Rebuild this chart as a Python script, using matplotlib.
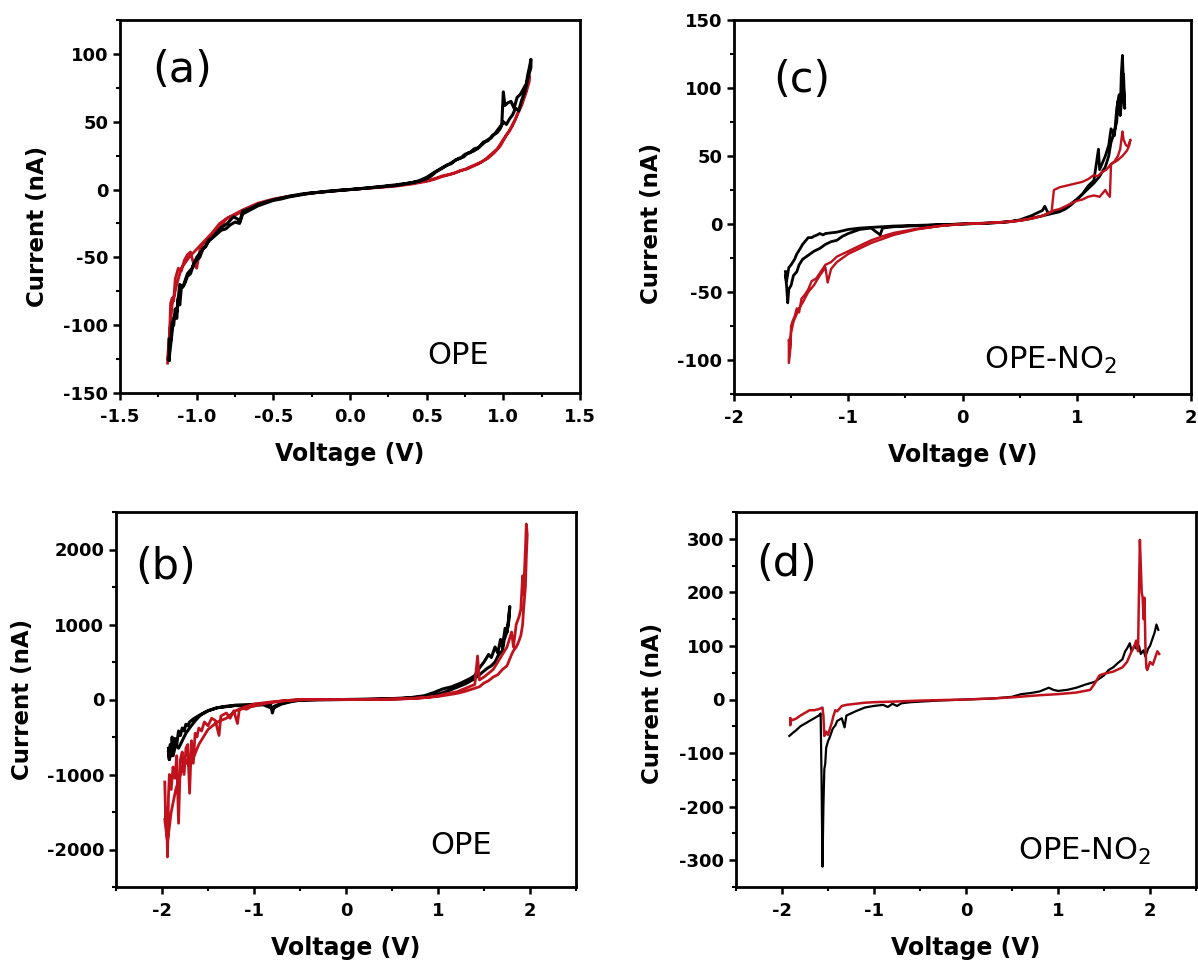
import matplotlib
matplotlib.use("Agg")
import matplotlib.pyplot as plt
from matplotlib.ticker import MultipleLocator, FormatStrFormatter

plt.rcParams['font.family'] = ['DejaVu Sans']
plt.rcParams['axes.unicode_minus'] = False
plt.rcParams['mathtext.fontset'] = 'dejavusans'

RED = '#C0121C'
BLACK = '#000000'

# ---------------- Panel (a) OPE ----------------
a_black_v = [-1.18, -1.18, -1.17, -1.16, -1.15, -1.14, -1.13, -1.12, -1.11, -1.10, -1.08, -1.06, -1.04, -1.02,
             -1.00, -0.98, -0.96, -0.94, -0.92, -0.90, -0.87, -0.84, -0.81, -0.78, -0.75, -0.72, -0.70, -0.65,
             -0.60, -0.55, -0.50, -0.45, -0.40, -0.35, -0.30, -0.25, -0.20, -0.15, -0.10, -0.05, 0.00, 0.05,
             0.10, 0.15, 0.20, 0.25, 0.30, 0.35, 0.40, 0.45, 0.50, 0.53, 0.56, 0.59, 0.62, 0.65, 0.68, 0.71,
             0.74, 0.77, 0.80, 0.83, 0.86, 0.89, 0.92, 0.95, 0.97, 0.99, 1.00, 1.01, 1.03, 1.05, 1.07, 1.09,
             1.11, 1.13, 1.15, 1.16, 1.17, 1.18,
             1.18, 1.16, 1.14, 1.12, 1.10, 1.08, 1.06, 1.04, 1.02, 1.00, 0.98, 0.96, 0.93, 0.90, 0.87, 0.84,
             0.81, 0.78, 0.75, 0.72, 0.69, 0.66, 0.63, 0.60, 0.57, 0.54, 0.50, 0.45, 0.40, 0.30, 0.20, 0.10,
             0.00, -0.10, -0.20, -0.30, -0.40, -0.50, -0.60, -0.65, -0.70, -0.72, -0.73, -0.76, -0.80, -0.84,
             -0.88, -0.92, -0.96, -1.00, -1.03, -1.06, -1.09, -1.11, -1.13, -1.15, -1.17, -1.18]
a_black_i = [-126, -110, -112, -98, -100, -88, -95, -80, -85, -72, -70, -64, -62, -55,
             -52, -50, -44, -42, -37, -36, -33, -30, -29, -26, -24, -25, -18, -15,
             -12, -10, -8, -7, -5.5, -4.5, -3.5, -2.5, -2, -1.3, -0.8, -0.3, 0, 0.5,
             1, 1.5, 2, 2.5, 3, 4, 5, 6, 8, 10, 13, 15, 17, 19, 21, 23,
             24, 27, 28, 30, 33, 36, 38, 42, 45, 48, 72, 62, 64, 65, 60, 68,
             70, 74, 78, 85, 90, 96,
             90, 82, 72, 66, 58, 60, 55, 52, 48, 50, 45, 42, 40, 36, 35, 31,
             30, 27, 26, 23, 22, 19, 18, 16, 14, 12, 9, 6.5, 5, 3.5, 2.2, 1,
             0, -1, -2, -3, -5, -7.5, -11, -14, -16, -24, -22, -20, -25, -28,
             -33, -38, -44, -50, -58, -62, -72, -70, -90, -95, -115, -125]
a_red_v = [-1.19, -1.18, -1.17, -1.16, -1.15, -1.14, -1.13, -1.12, -1.10, -1.08, -1.06, -1.04, -1.02, -1.00,
           -0.98, -0.96, -0.93, -0.90, -0.87, -0.84, -0.81, -0.78, -0.75, -0.70, -0.65, -0.60, -0.55, -0.50,
           -0.40, -0.30, -0.20, -0.10, 0.00, 0.10, 0.20, 0.30, 0.40, 0.50, 0.55, 0.60, 0.65, 0.70, 0.75,
           0.80, 0.85, 0.90, 0.94, 0.98, 1.00, 1.02, 1.04, 1.06, 1.08, 1.10, 1.12, 1.14, 1.16, 1.17,
           1.17, 1.15, 1.12, 1.09, 1.06, 1.03, 1.00, 0.96, 0.92, 0.88, 0.84, 0.80, 0.76, 0.72, 0.68, 0.64,
           0.60, 0.55, 0.50, 0.40, 0.30, 0.20, 0.10, 0.00, -0.10, -0.20, -0.30, -0.40, -0.50, -0.60, -0.70,
           -0.75, -0.80, -0.85, -0.90, -0.95, -1.00, -1.05, -1.10, -1.13, -1.16, -1.18, -1.19]
a_red_i = [-128, -118, -84, -80, -82, -66, -62, -58, -60, -52, -48, -46, -55, -58,
           -45, -40, -38, -35, -30, -27, -22, -20, -19, -16, -13, -11, -9, -7.5,
           -5, -3.3, -2, -1, 0, 0.8, 1.6, 2.5, 4, 6, 7.5, 9.5, 11, 13, 15,
           17.5, 20, 23, 27, 32, 36, 40, 43, 48, 52, 58, 64, 70, 78, 84,
           80, 72, 62, 55, 47, 42, 37, 30, 26, 22, 19, 17, 15, 14, 12, 11,
           10, 8, 6.5, 4.5, 3, 1.8, 0.9, 0, -1, -2, -3.5, -5, -7, -10, -15,
           -18, -21, -25, -32, -38, -44, -50, -58, -70, -85, -110, -125]

# ---------------- Panel (b) OPE ----------------
b_black_v = [-1.93, -1.92, -1.91, -1.90, -1.89, -1.88, -1.86, -1.84, -1.82, -1.80, -1.78, -1.76, -1.74, -1.72,
             -1.70, -1.66, -1.62, -1.58, -1.54, -1.50, -1.45, -1.40, -1.35, -1.30, -1.25, -1.20, -1.10, -1.00,
             -0.90, -0.82, -0.80, -0.78, -0.72, -0.66, -0.60, -0.55, -0.50, -0.30, 0.00, 0.30, 0.50, 0.70,
             0.85, 0.95, 1.05, 1.15, 1.25, 1.30, 1.35, 1.40, 1.45, 1.50, 1.55, 1.58, 1.62, 1.65, 1.68, 1.70,
             1.73, 1.75, 1.77, 1.78,
             1.77, 1.75, 1.72, 1.70, 1.66, 1.62, 1.58, 1.54, 1.50, 1.45, 1.40, 1.30, 1.20, 1.10, 1.00, 0.90,
             0.80, 0.60, 0.40, 0.20, 0.00, -0.30, -0.50, -0.60, -0.70, -0.80, -0.90, -1.00, -1.10, -1.20, -1.30,
             -1.40, -1.50, -1.55, -1.60, -1.65, -1.70, -1.74, -1.78, -1.82, -1.85, -1.88, -1.90, -1.92, -1.93]
b_black_i = [-650, -800, -600, -750, -500, -700, -520, -600, -420, -480, -380, -420, -330, -350,
             -300, -260, -230, -200, -180, -150, -130, -110, -100, -90, -85, -75, -70, -65,
             -60, -60, -180, -90, -60, -40, -20, -10, -5, -2, 0, 5, 12, 25,
             50, 90, 140, 170, 220, 250, 280, 320, 420, 500, 600, 560, 700, 620, 800, 700,
             950, 900, 1100, 1240,
             1050, 900, 800, 650, 600, 500, 450, 420, 380, 330, 280, 210, 160, 110, 70, 45,
             30, 12, 5, 1, 0, -3, -10, -30, -60, -120, -70, -80, -90, -80, -95,
             -110, -150, -180, -230, -300, -380, -450, -550, -650, -600, -750, -700, -800, -700]
b_red_v = [-1.97, -1.96, -1.95, -1.94, -1.93, -1.92, -1.90, -1.88, -1.86, -1.84, -1.82, -1.80, -1.78, -1.76,
           -1.74, -1.72, -1.70, -1.68, -1.66, -1.64, -1.62, -1.60, -1.57, -1.54, -1.50, -1.46, -1.42, -1.38,
           -1.36, -1.33, -1.30, -1.26, -1.22, -1.18, -1.16, -1.12, -1.08, -1.04, -1.00, -0.95, -0.90, -0.85,
           -0.80, -0.75, -0.70, -0.65, -0.60, -0.55, -0.50, -0.30, 0.00, 0.30, 0.50, 0.70, 0.80, 0.90, 1.00,
           1.10, 1.20, 1.30, 1.40, 1.43, 1.45, 1.50, 1.55, 1.60, 1.65, 1.70, 1.75, 1.80, 1.82, 1.85, 1.88,
           1.90, 1.92, 1.93, 1.95, 1.96, 1.97,
           1.96, 1.95, 1.93, 1.92, 1.90, 1.87, 1.85, 1.82, 1.80, 1.75, 1.70, 1.65, 1.60, 1.55, 1.50, 1.45,
           1.40, 1.30, 1.20, 1.10, 1.00, 0.80, 0.60, 0.40, 0.20, 0.00, -0.30, -0.50, -0.60, -0.70, -0.80,
           -0.90, -1.00, -1.10, -1.20, -1.30, -1.40, -1.50, -1.60, -1.70, -1.75, -1.80, -1.85, -1.90, -1.94,
           -1.97]
b_red_i = [-1100, -1600, -1450, -2100, -1300, -1000, -1200, -900, -1050, -750, -1650, -800, -700, -1000,
           -650, -600, -1250, -550, -850, -450, -500, -380, -420, -300, -350, -250, -280, -480,
           -220, -200, -180, -250, -150, -320, -140, -120, -130, -100, -90, -70, -60, -45,
           -40, -30, -20, -15, -10, -5, -2, -1, 0, 2, 5, 12, 20, 30, 50,
           80, 100, 150, 200, 580, 260, 300, 350, 400, 500, 600, 700, 900, 700, 1000, 1100,
           1200, 1650, 1400, 2000, 2340, 2200,
           1900, 1500, 1200, 1000, 850, 750, 700, 650, 600, 450, 400, 330, 300, 250, 220, 170,
           150, 110, 80, 60, 40, 20, 8, 3, 1, 0, -2, -5, -10, -20, -30,
           -45, -60, -100, -150, -250, -300, -400, -600, -900, -800, -1000, -1200, -1500, -1900,
           -1600]

# ---------------- Panel (c) OPE-NO2 ----------------
c_black_v = [-1.55, -1.54, -1.52, -1.50, -1.47, -1.45, -1.42, -1.40, -1.37, -1.35, -1.32, -1.30, -1.27, -1.25,
             -1.22, -1.20, -1.15, -1.10, -1.05, -1.00, -0.90, -0.80, -0.70, -0.60, -0.40, -0.20, 0.00, 0.20,
             0.40, 0.50, 0.60, 0.65, 0.70, 0.72, 0.75, 0.80, 0.85, 0.90, 0.95, 1.00, 1.05, 1.10, 1.15,
             1.19, 1.20, 1.25, 1.28, 1.30, 1.33, 1.35, 1.37, 1.38, 1.39, 1.40, 1.41, 1.42,
             1.41, 1.40, 1.38, 1.36, 1.35, 1.32, 1.30, 1.28, 1.25, 1.22, 1.20, 1.15, 1.10, 1.05, 1.00, 0.95,
             0.90, 0.85, 0.80, 0.75, 0.70, 0.60, 0.50, 0.30, 0.00, -0.30, -0.60, -0.70, -0.72, -0.80, -0.90,
             -1.00, -1.05, -1.10, -1.15, -1.20, -1.25, -1.30, -1.35, -1.40, -1.43, -1.45, -1.48, -1.50, -1.52,
             -1.53, -1.54, -1.55]
c_black_i = [-35, -42, -32, -30, -26, -22, -18, -15, -12, -10, -10, -9, -8, -7,
             -8, -7, -6.5, -6, -5, -4, -3, -2.5, -2, -1.5, -1, -0.5, 0, 0.5,
             1.5, 3, 6, 8, 10, 13, 8, 9, 10, 12, 15, 18, 22, 28, 32,
             55, 40, 50, 58, 70, 65, 85, 95, 80, 110, 124, 100, 85,
             110, 95, 80, 90, 75, 65, 60, 50, 42, 38, 35, 30, 26, 22, 18, 14,
             11, 9, 8, 7, 6, 4, 2.5, 1, 0, -1, -2, -3, -8, -3, -4,
             -7, -9, -12, -13, -15, -18, -20, -23, -26, -30, -35, -38, -45, -48,
             -58, -45, -38]
c_red_v = [-1.52, -1.52, -1.51, -1.50, -1.49, -1.47, -1.45, -1.43, -1.41, -1.38, -1.35, -1.32, -1.28, -1.24,
           -1.20, -1.15, -1.10, -1.05, -1.00, -0.90, -0.80, -0.70, -0.60, -0.50, -0.40, -0.30, -0.20, 0.00,
           0.20, 0.40, 0.50, 0.60, 0.70, 0.78, 0.80, 0.85, 0.90, 0.95, 1.00, 1.05, 1.10, 1.15, 1.18, 1.22,
           1.26, 1.30, 1.33, 1.36, 1.38, 1.40, 1.41, 1.43, 1.45, 1.47,
           1.46, 1.44, 1.42, 1.40, 1.36, 1.32, 1.30, 1.29, 1.27, 1.25, 1.22, 1.20, 1.15, 1.10, 1.05, 1.00,
           0.95, 0.90, 0.85, 0.80, 0.75, 0.70, 0.60, 0.50, 0.30, 0.10, 0.00, -0.20, -0.40, -0.50, -0.60,
           -0.70, -0.80, -0.90, -1.00, -1.05, -1.10, -1.15, -1.18, -1.20, -1.25, -1.30, -1.35, -1.40, -1.43,
           -1.45, -1.48, -1.50, -1.51, -1.52]
c_red_i = [-100, -85, -92, -75, -72, -68, -62, -65, -55, -52, -48, -42, -40, -35,
           -30, -28, -24, -22, -20, -16, -12, -9, -6.5, -5, -3.5, -2.5, -1.5, 0,
           0.7, 1.5, 2.5, 4, 6, 9, 25, 27, 28, 29, 30, 31, 33, 36, 35, 38,
           40, 44, 46, 50, 55, 68, 62, 58, 57, 62,
           58, 54, 52, 50, 47, 45, 44, 20, 22, 25, 22, 20, 21, 20, 18, 17,
           15, 13, 11, 10, 8, 6, 4, 2.5, 1, 0.3, 0, -1.5, -4, -6, -8,
           -11, -14, -18, -22, -25, -28, -33, -43, -32, -38, -45, -50, -58, -62,
           -66, -72, -80, -95, -102]

# ---------------- Panel (d) OPE-NO2 ----------------
d_black_v = [-1.92, -1.88, -1.85, -1.80, -1.75, -1.70, -1.65, -1.60, -1.58, -1.57, -1.56, -1.55, -1.54, -1.53,
             -1.52, -1.50, -1.48, -1.45, -1.42, -1.40, -1.35, -1.32, -1.30, -1.20, -1.10, -1.00, -0.90, -0.85,
             -0.80, -0.75, -0.70, -0.60, -0.50, -0.30, 0.00, 0.30, 0.50, 0.60, 0.70, 0.80, 0.90, 0.95, 1.00,
             1.10, 1.20, 1.30, 1.40, 1.50, 1.55, 1.60, 1.65, 1.70, 1.73, 1.75, 1.78, 1.80, 1.83, 1.85, 1.88,
             1.90, 1.93, 1.95, 1.98, 2.00, 2.03, 2.05, 2.07, 2.09]
d_black_i = [-68, -62, -58, -50, -45, -40, -35, -30, -26, -150, -312, -200, -130, -120,
             -90, -78, -70, -55, -48, -40, -35, -52, -30, -22, -15, -12, -10, -14,
             -8, -12, -7, -5, -4, -2, 0, 2, 5, 10, 12, 15, 22, 18, 16,
             18, 22, 28, 33, 45, 55, 60, 68, 75, 90, 95, 105, 90, 100, 95, 100,
             85, 92, 80, 95, 100, 115, 125, 140, 130]
d_red_v = [-1.91, -1.91, -1.90, -1.88, -1.85, -1.80, -1.75, -1.70, -1.65, -1.60, -1.56, -1.55, -1.54, -1.52,
           -1.50, -1.48, -1.46, -1.44, -1.42, -1.40, -1.35, -1.30, -1.20, -1.10, -1.00, -0.80, -0.50, 0.00,
           0.30, 0.50, 0.80, 1.00, 1.20, 1.35, 1.40, 1.45, 1.50, 1.60, 1.70, 1.75, 1.80, 1.83, 1.85, 1.87,
           1.88, 1.89, 1.90, 1.91, 1.92, 1.93, 1.94, 1.95, 1.96, 1.97, 2.00, 2.03, 2.05, 2.08, 2.10]
d_red_i = [-35, -48, -38, -38, -36, -30, -25, -20, -20, -18, -15, -30, -68, -60,
           -66, -55, -44, -30, -20, -22, -12, -10, -8, -6, -5, -4, -2, 0,
           2, 4, 8, 10, 13, 18, 30, 45, 48, 52, 60, 70, 90, 100, 110, 90,
           200, 298, 250, 200, 190, 150, 190, 100, 60, 55, 70, 65, 75, 90, 85]

W, H = 1198, 961
fig = plt.figure(figsize=(W / 100, H / 100), dpi=100)


def make_ax(px_left, px_right, px_top, px_bottom):
    return fig.add_axes([px_left / W, 1 - px_bottom / H, (px_right - px_left) / W, (px_bottom - px_top) / H])


def style(ax, xlim, ylim, xmaj, xmin, ymaj, ymin, ylab_y, ylab_pad, xfmt=None):
    ax.set_xlim(*xlim)
    ax.set_ylim(*ylim)
    ax.xaxis.set_major_locator(MultipleLocator(xmaj))
    ax.xaxis.set_minor_locator(MultipleLocator(xmin))
    ax.yaxis.set_major_locator(MultipleLocator(ymaj))
    ax.yaxis.set_minor_locator(MultipleLocator(ymin))
    if xfmt:
        ax.xaxis.set_major_formatter(xfmt)
    for s in ax.spines.values():
        s.set_linewidth(2.0)
    ax.tick_params(which='major', direction='out', length=5, width=1.8, labelsize=13, top=False, right=False)
    ax.tick_params(axis='x', which='major', pad=6)
    ax.tick_params(which='minor', direction='out', length=3, width=1.5, top=False, right=False)
    for lab in ax.get_xticklabels() + ax.get_yticklabels():
        lab.set_fontweight('bold')
    ax.set_xlabel('Voltage (V)', fontsize=17, fontweight='bold', labelpad=11)
    ax.set_ylabel('Current (nA)', fontsize=16.5, fontweight='bold', labelpad=ylab_pad)
    ax.yaxis.label.set_y(ylab_y)


ax_a = make_ax(120, 580, 20, 393)
ax_c = make_ax(734, 1191, 20, 394)
ax_b = make_ax(116, 576, 512, 887)
ax_d = make_ax(736, 1196, 512, 887)

ax_a.plot(a_red_v, a_red_i, color=RED, lw=2.0)
ax_a.plot(a_black_v, a_black_i, color=BLACK, lw=2.2)
style(ax_a, (-1.5, 1.5), (-150, 125), 0.5, 0.25, 50, 25, 0.447, 10, xfmt=FormatStrFormatter('%.1f'))
ax_a.text(0.136, 0.866, '(a)', transform=ax_a.transAxes, fontsize=31, ha='center', va='center')
ax_a.text(0.735, 0.10, 'OPE', transform=ax_a.transAxes, fontsize=22, ha='center', va='center')

ax_c.plot(c_black_v, c_black_i, color=BLACK, lw=2.0)
ax_c.plot(c_red_v, c_red_i, color=RED, lw=1.7)
style(ax_c, (-2, 2), (-125, 150), 1, 0.5, 50, 25, 0.455, 10)
ax_c.text(0.149, 0.84, '(c)', transform=ax_c.transAxes, fontsize=31, ha='center', va='center')
ax_c.text(0.693, 0.09, 'OPE-NO$_2$', transform=ax_c.transAxes, fontsize=22, ha='center', va='center')

ax_b.plot(b_black_v, b_black_i, color=BLACK, lw=2.2)
ax_b.plot(b_red_v, b_red_i, color=RED, lw=2.0)
style(ax_b, (-2.5, 2.5), (-2500, 2500), 1, 0.5, 1000, 500, 0.5, 9)
ax_b.text(0.108, 0.853, '(b)', transform=ax_b.transAxes, fontsize=31, ha='center', va='center')
ax_b.text(0.751, 0.11, 'OPE', transform=ax_b.transAxes, fontsize=22, ha='center', va='center')

ax_d.plot(d_black_v, d_black_i, color=BLACK, lw=1.6)
ax_d.plot(d_red_v, d_red_i, color=RED, lw=1.8)
style(ax_d, (-2.5, 2.5), (-350, 350), 1, 0.5, 100, 50, 0.49, 11)
ax_d.text(0.11, 0.862, '(d)', transform=ax_d.transAxes, fontsize=31, ha='center', va='center')
ax_d.text(0.759, 0.095, 'OPE-NO$_2$', transform=ax_d.transAxes, fontsize=22, ha='center', va='center')

fig.savefig('out.png', dpi=100)
